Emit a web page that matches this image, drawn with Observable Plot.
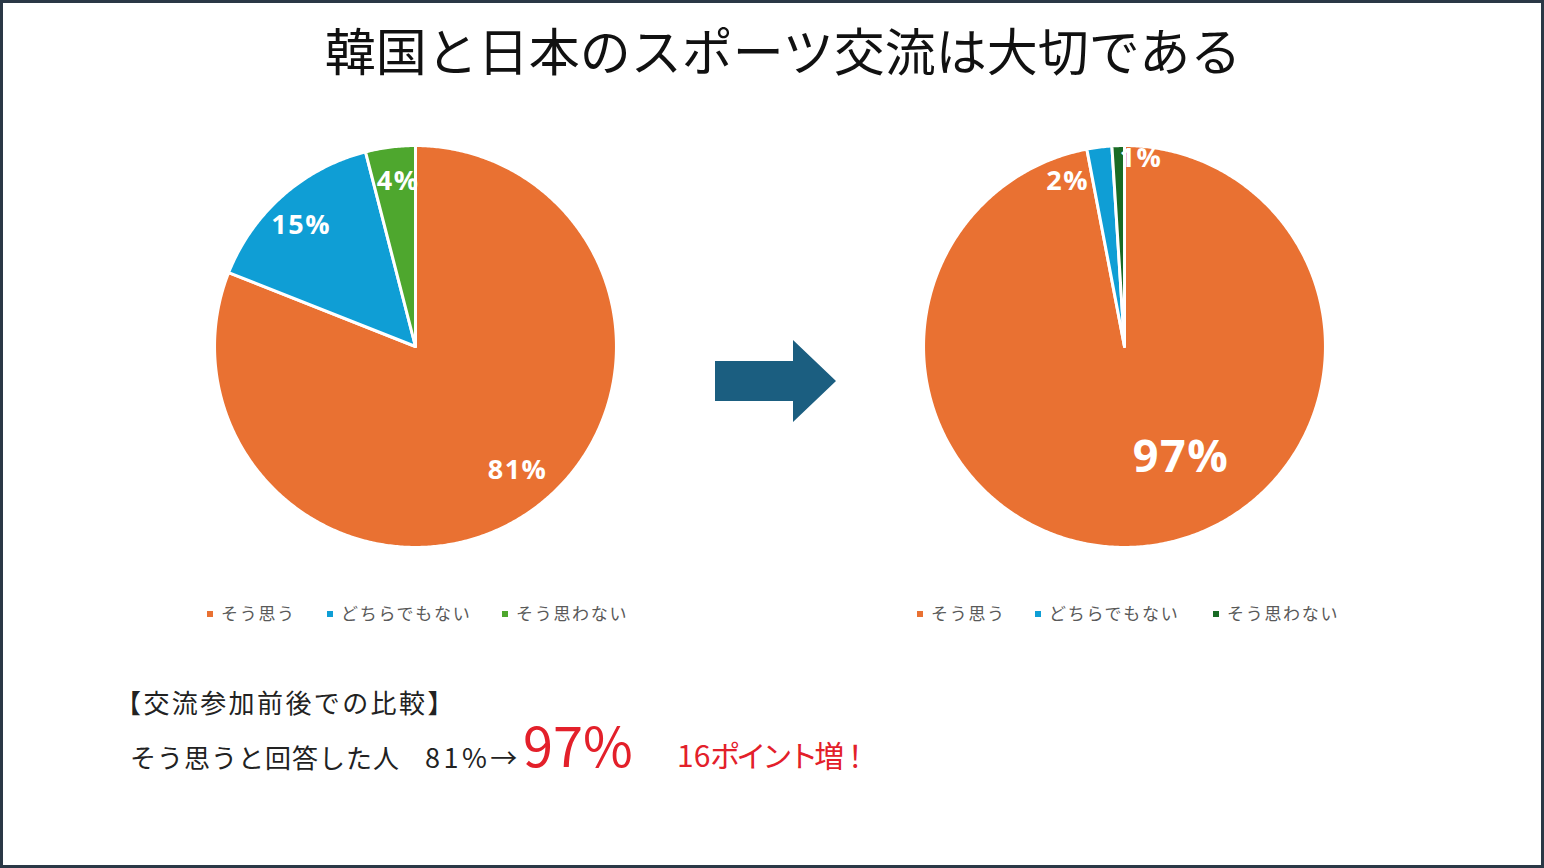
<!DOCTYPE html>
<html lang="ja">
<head>
<meta charset="utf-8">
<script src="https://cdn.jsdelivr.net/npm/d3@7"></script>
<script src="https://cdn.jsdelivr.net/npm/@observablehq/plot@0.6"></script>
<style>
  html, body { margin: 0; padding: 0; background: #fff; }
  #page { position: relative; width: 1544px; height: 868px; overflow: hidden; background: #fff; }
  #frame { position: absolute; left: 0; top: 0; width: 1544px; height: 868px; box-sizing: border-box;
           border: 3px solid #2a3846; pointer-events: none; z-index: 5; }
  #overlay { position: absolute; left: 0; top: 0; }
  .pie { position: absolute; top: 136px; }
  .pie svg text { letter-spacing: 1.5px; }
  #pieAfter svg text.big { letter-spacing: 3px; }
</style>
</head>
<body>
<div id="page">
  <svg id="overlay" width="1544" height="868"></svg>
  <div id="pieBefore" class="pie" style="left:205px"></div>
  <div id="pieAfter" class="pie" style="left:914px"></div>
  <div id="frame"></div>
</div>
<script>
// ---------------- data ----------------
const title = "韓国と日本のスポーツ交流は大切である";
const categories = ["そう思う", "どちらでもない", "そう思わない"];
const valuesBefore = [81, 15, 4];
const valuesAfter = [97, 2, 1];
const colorsBefore = ["#E97132", "#0F9ED5", "#4EA72E"];
const colorsAfter = ["#E97132", "#0F9ED5", "#196B24"];
const noteHeading = "【交流参加前後での比較】";
const noteLead = "そう思うと回答した人";
const noteFrom = "81%→";
const noteTo = "97%";
const noteGainNum = "16";
const noteGainText = "ポイント増！";

// ---------------- layout (not data) ----------------
const R = 1.045;            // scale domain half-extent (unit circle = pie radius)
const SIZE = 420;           // px
// label placement: [angle in degrees clockwise from top, radius fraction, font size]
const beforeLabelPlace = [[140.6, 0.80, 27], [316.7, 0.83, 27], [354, 0.825, 27]];
const afterLabelPlace = [[153, 0.62, 45], [341, 0.87, 27], [5, 0.94, 27]];

function buildSlices(values) {
  const rows = categories.map((c, i) => ({key: c, value: values[i]}));
  const arcs = d3.pie().sort(null).value(d => d.value)(rows);
  const pts = [];
  arcs.forEach(a => {
    pts.push({key: a.data.key, x: 0, y: 0});
    const n = Math.max(2, Math.ceil((a.endAngle - a.startAngle) / (Math.PI / 360)));
    for (let i = 0; i <= n; i++) {
      const t = a.startAngle + (a.endAngle - a.startAngle) * i / n;
      pts.push({key: a.data.key, x: Math.sin(t), y: Math.cos(t)});
    }
  });
  return {arcs, pts};
}

function pie(values, colors, place) {
  const {arcs, pts} = buildSlices(values);
  const labels = arcs.map((a, i) => {
    const ang = place[i][0] * Math.PI / 180, r = place[i][1], size = place[i][2];
    return {text: `${a.data.value}%`, x: r * Math.sin(ang), y: r * Math.cos(ang), size};
  });
  const textMarks = labels.map(l => Plot.text([l], {
    x: "x", y: "y", text: "text", fill: "white", fontSize: l.size, fontWeight: "bold",
    fontFamily: "'Open Sans', 'DejaVu Sans', sans-serif", textAnchor: "middle", lineAnchor: "middle",
    className: l.size > 35 ? "big" : "small"
  }));
  return Plot.plot({
    width: SIZE, height: SIZE, margin: 0,
    x: {domain: [-R, R], axis: null},
    y: {domain: [-R, R], axis: null},
    color: {domain: categories, range: colors},
    style: {background: "transparent", overflow: "visible"},
    marks: [
      Plot.line(pts, {x: "x", y: "y", z: "key", fill: "key", stroke: "white", strokeWidth: 3,
                      strokeLinejoin: "round", curve: "linear-closed"}),
      ...textMarks
    ]
  });
}

document.getElementById("pieBefore").append(pie(valuesBefore, colorsBefore, beforeLabelPlace));
document.getElementById("pieAfter").append(pie(valuesAfter, colorsAfter, afterLabelPlace));

// ---------------- overlay: title, arrow, legends, notes ----------------
const svg = d3.select("#overlay");
const jp = "'Noto Sans CJK JP', 'Noto Sans', sans-serif";

svg.append("text").attr("x", 783).attr("y", 71).attr("text-anchor", "middle")
  .attr("font-family", jp).attr("font-size", 51).attr("fill", "#111").text(title);

svg.append("polygon")
  .attr("points", "715,361 793,361 793,340 836,381 793,422 793,401 715,401")
  .attr("fill", "#1b5e80");

function legend(xs, colors) {
  categories.forEach((c, i) => {
    svg.append("rect").attr("x", xs[i] - 14).attr("y", 611).attr("width", 6).attr("height", 6).attr("fill", colors[i]);
    svg.append("text").attr("x", xs[i]).attr("y", 620).attr("font-family", jp).attr("font-size", 17)
      .attr("letter-spacing", "1.7px").attr("fill", "#595959").text(c);
  });
}
legend([221, 341, 516], colorsBefore);
legend([931, 1049, 1227], colorsAfter);

svg.append("text").attr("x", 115).attr("y", 713).attr("font-family", jp).attr("font-size", 26)
  .attr("letter-spacing", "2.4px").attr("fill", "#222").text(noteHeading);
svg.append("text").attr("x", 130).attr("y", 768).attr("font-family", jp).attr("font-size", 26)
  .attr("letter-spacing", "1px").attr("fill", "#222").text(noteLead);
svg.append("text").attr("x", 425).attr("y", 768).attr("font-family", jp).attr("font-size", 27)
  .attr("letter-spacing", "3.5px").attr("fill", "#222").text(noteFrom);
svg.append("text").attr("x", 523).attr("y", 767).attr("font-family", jp).attr("font-size", 54)
  .attr("fill", "#E3202A").text(noteTo);
const gain = svg.append("text").attr("x", 677).attr("y", 767).attr("font-family", jp).attr("font-size", 30)
  .attr("fill", "#E3202A");
gain.append("tspan").attr("letter-spacing", "0px").text(noteGainNum);
gain.append("tspan").attr("letter-spacing", "-4px").text(noteGainText);
</script>
</body>
</html>
